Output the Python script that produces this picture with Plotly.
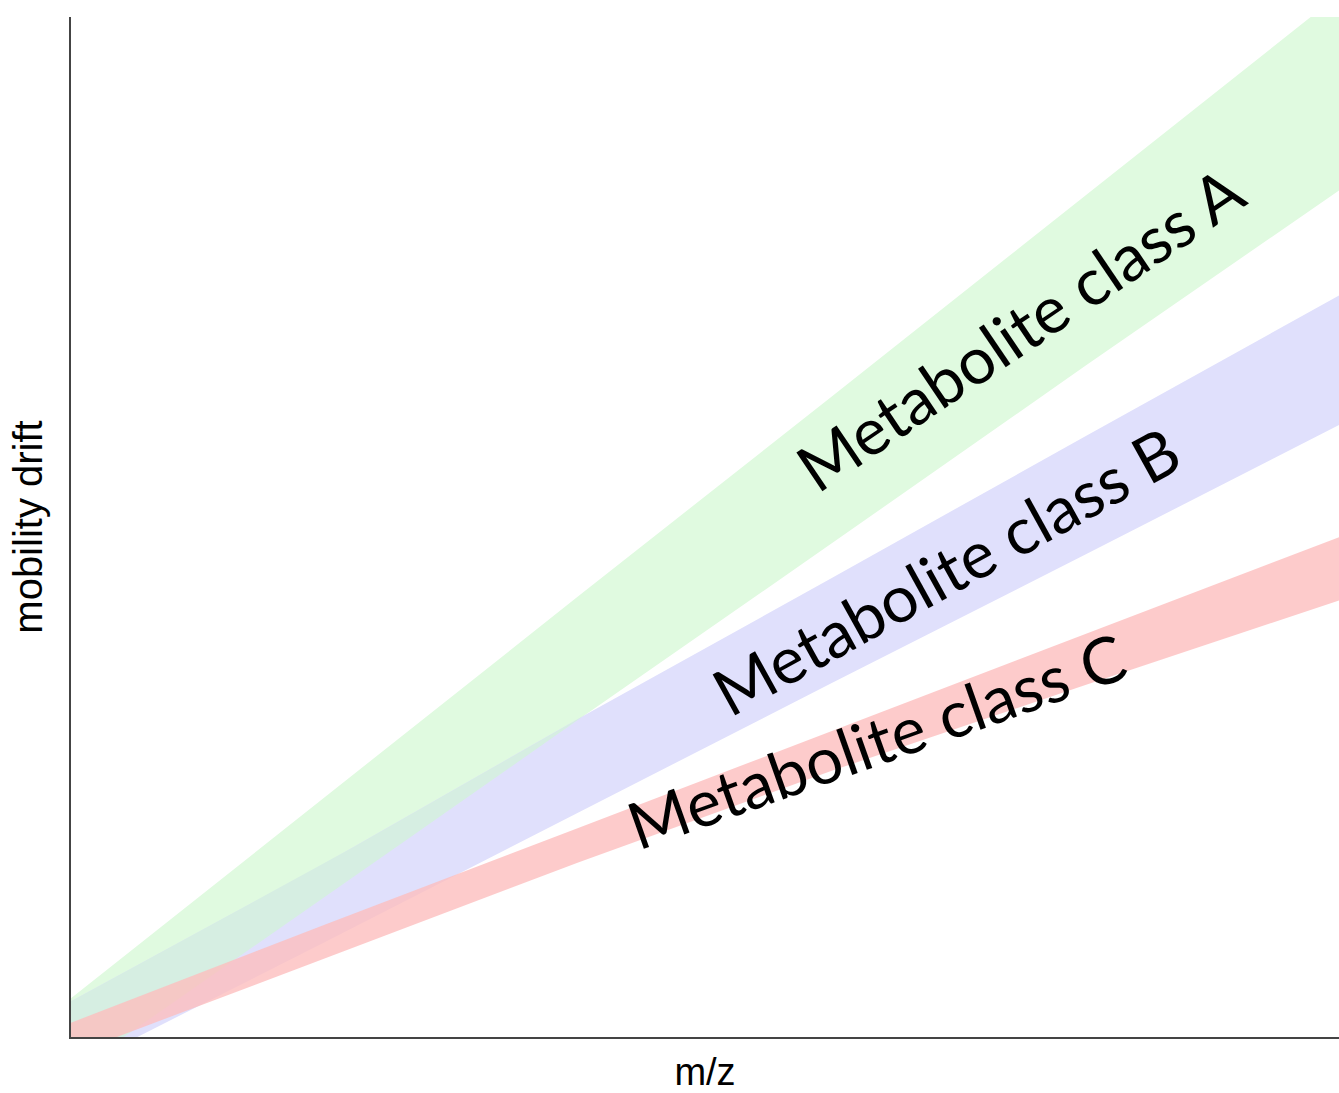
import numpy as np
import plotly.graph_objects as go

# m/z grid (arbitrary units) shared by all bands
mz = [0, 20, 40, 60, 80, 100]

# upper / lower edges of each metabolite class band (mobility drift, arbitrary units)
class_a_upper = [3.8, 23.5, 43.2, 62.8, 82.5, 102.2]
class_a_lower = [-3.6, 13.7, 31.1, 48.4, 65.8, 83.0]
class_b_upper = [3.5, 17.0, 31.2, 45.0, 58.9, 72.7]
class_b_lower = [-3.3, 9.3, 22.0, 34.7, 47.3, 60.0]
class_c_upper = [1.4, 11.0, 20.5, 30.0, 39.5, 49.0]
class_c_lower = [-1.7, 7.7, 17.1, 26.1, 34.5, 42.8]

labels = ["Metabolite class A", "Metabolite class B", "Metabolite class C"]
label_x = [74.8, 69.0, 63.5]
label_y = [69.5, 45.8, 29.1]
label_angle = [-34, -29, -19.5]

fig = go.Figure()


def band(xs, upper, lower, col):
    xs = list(xs)
    fig.add_trace(go.Scatter(
        x=xs + xs[::-1],
        y=list(upper) + list(lower)[::-1],
        fill="toself", fillcolor=col,
        line=dict(width=0), mode="lines",
        hoverinfo="skip", showlegend=False,
    ))


band(mz, class_a_upper, class_a_lower, "rgb(224,250,224)")
band(mz, class_b_upper, class_b_lower, "rgb(224,224,252)")

# overlap of classes A and B (derived from the band edges)
xf = np.linspace(0, 100, 401)
hi = np.minimum(np.interp(xf, mz, class_a_upper), np.interp(xf, mz, class_b_upper))
lo = np.maximum(np.interp(xf, mz, class_a_lower), np.interp(xf, mz, class_b_lower))
m = hi > lo
band(xf[m], hi[m], lo[m], "rgb(214,238,226)")

band(mz, class_c_upper, class_c_lower, "rgba(252,190,190,0.8)")

for t, x, y, a in zip(labels, label_x, label_y, label_angle):
    fig.add_annotation(
        x=x, y=y, text=t, textangle=a, showarrow=False,
        font=dict(family="Lato", size=65, color="black"),
        xanchor="center", yanchor="middle",
    )

axis_common = dict(
    showgrid=False, zeroline=False, showticklabels=False, ticks="",
    showline=True, linecolor="#444444", linewidth=2, automargin=False,
)
fig.update_xaxes(range=[0, 100], title=dict(text="m/z", standoff=33,
                 font=dict(family="Liberation Sans", size=38, color="black")), **axis_common)
fig.update_yaxes(range=[0, 100], title=dict(text="mobility drift", standoff=14,
                 font=dict(family="Liberation Sans", size=40, color="black")), **axis_common)

fig.update_layout(
    width=1339, height=1093,
    margin=dict(l=71, r=0, t=17, b=56),
    plot_bgcolor="white", paper_bgcolor="white",
)
fig.write_html(
    "out.html",
    config={"displayModeBar": False},
    post_script="document.body.style.margin='0';document.body.style.overflow='hidden';",
)
